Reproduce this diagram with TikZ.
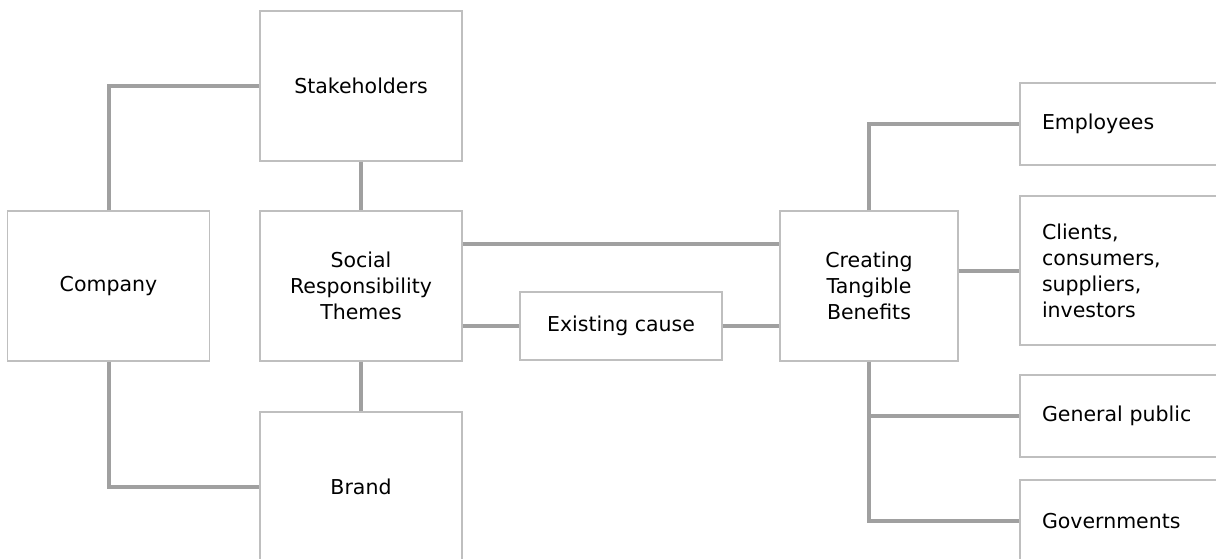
\documentclass[tikz,border=0pt]{standalone}
\usepackage{fontspec}
\setmainfont{DejaVu Sans}
\usetikzlibrary{positioning}

\definecolor{boxgray}{RGB}{191,191,191}
\definecolor{linkgray}{RGB}{160,160,160}

\begin{document}
\begin{tikzpicture}[x=1pt,y=-1pt,
    every node/.style={rectangle,draw=boxgray,line width=1.3pt,fill=white,
      inner sep=0pt,align=center,font=\fontsize{20.5}{26}\selectfont},
    bigbox/.style={minimum width=202,minimum height=150},
    sidebox/.style={text width=186,inner xsep=22,align=left,minimum height=82},
    link/.style={draw=linkgray,line width=4pt}]
    \useasboundingbox (0,0) rectangle (1216,558);
    \clip (0,0) rectangle (1216,558);

    \node (stake) [bigbox] at (361,86) {Stakeholders};
    \node (company) [bigbox] at (108.5,286) {Company};
    \node (social) [bigbox] at (361,286) {Social\\Responsibility\\Themes};
    \node (brand) [bigbox] at (361,487) {Brand};

    \node (cause) [minimum width=202,minimum height=68] at (621,326) {Existing cause};
    \node (create) [minimum width=178,minimum height=150] at (869,286) {Creating\\Tangible\\Benefits};

    \node (emp) [sidebox] at (1135,124) {Employees};
    \node (clients) [sidebox,minimum height=149] at (1135,270.5) {Clients,\\consumers,\\suppliers,\\investors};
    \node (pub) [sidebox] at (1135,416) {General public};
    \node (gov) [sidebox] at (1135,521) {Governments};

  \draw[link] (company.north) |- (stake.west);
  \draw[link] (company.south) |- (brand.west);
  \draw[link] (stake.south) -- (social.north);
  \draw[link] (social.south) -- (brand.north);

  \draw[link] ([yshift=42pt]social.east) -- ([yshift=42pt]create.west);
  \draw[link] (social.east |- cause.west) -- (cause.west);
  \draw[link] (cause.east) -- (create.west |- cause.east);

  \draw[link] (create.north) |- (emp.west);
  \draw[link] (create.east |- clients.west) -- (clients.west);
  \draw[link] (create.south) |- (pub.west);
  \draw[link] (create.south) |- (gov.west);
\end{tikzpicture}
\end{document}
